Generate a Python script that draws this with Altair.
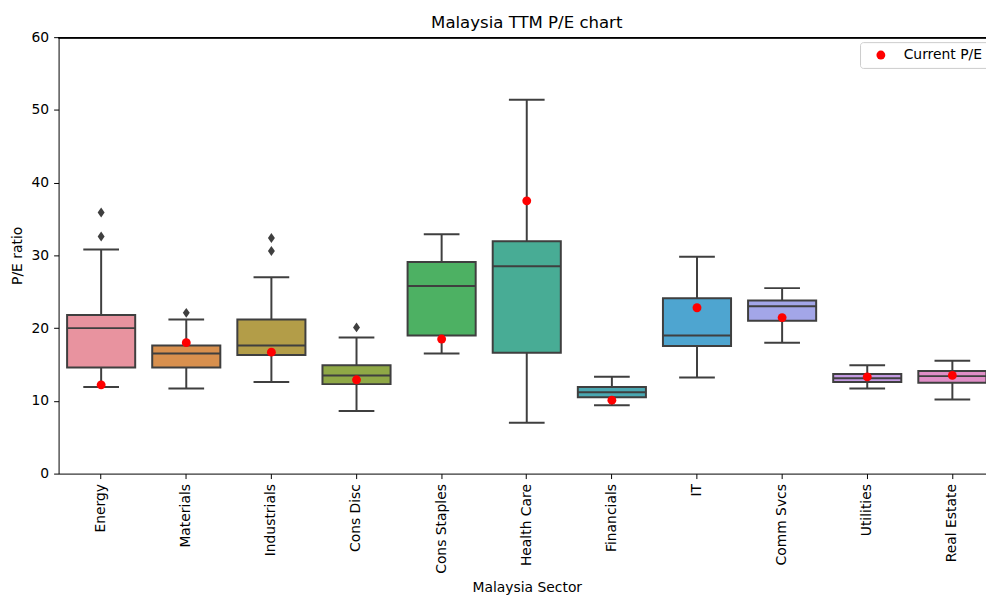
import altair as alt
import pandas as pd

sectors = ["Energy", "Materials", "Industrials", "Cons Disc", "Cons Staples",
           "Health Care", "Financials", "IT", "Comm Svcs", "Utilities", "Real Estate"]
whisk_lo = [11.9, 11.7, 12.6, 8.6, 16.5, 7.0, 9.4, 13.2, 18.0, 11.7, 10.2]
q1 = [14.6, 14.6, 16.3, 12.3, 19.0, 16.6, 10.5, 17.55, 21.0, 12.6, 12.5]
median = [20.0, 16.5, 17.6, 13.5, 25.8, 28.5, 11.2, 19.0, 23.0, 13.1, 13.4]
q3 = [21.8, 17.6, 21.2, 14.9, 29.1, 31.95, 11.9, 24.1, 23.8, 13.7, 14.1]
whisk_hi = [30.8, 21.2, 27.0, 18.7, 32.9, 51.4, 13.3, 29.8, 25.5, 14.9, 15.5]
current_pe = [12.2, 18.0, 16.7, 12.9, 18.5, 37.5, 10.1, 22.8, 21.45, 13.3, 13.5]
outlier_sector = ["Energy", "Energy", "Materials", "Industrials", "Industrials", "Cons Disc"]
outlier_value = [35.9, 32.6, 22.1, 32.4, 30.6, 20.1]
box_colors = ["#e8939f", "#d8904e", "#b39d48", "#8fa846", "#4db163", "#48ac95",
              "#4aa8b2", "#4ea5d0", "#a3a6e8", "#c49be3", "#e08ec7"]

stats = pd.DataFrame({
    "sector": sectors, "lo": whisk_lo, "q1": q1, "med": median,
    "q3": q3, "hi": whisk_hi, "current": current_pe,
    "label": ["Current P/E"] * len(sectors),
})
outliers = pd.DataFrame({"sector": outlier_sector, "value": outlier_value})

FONT = "DejaVu Sans"
LINE = "#3f3f3f"

x = alt.X("sector:N", sort=sectors,
          scale=alt.Scale(domain=sectors, range=[0, 944], paddingInner=0.2, paddingOuter=0.1),
          axis=alt.Axis(title="Malaysia Sector", labelAngle=270, labelAlign="right",
                        labelBaseline="middle", labelPadding=5, tickSize=5,
                        labelFontSize=14, titleFontSize=14, titleFontWeight="normal",
                        labelColor="black", titleColor="black", tickColor="black",
                        domainColor="black", labelFont=FONT, titleFont=FONT,
                        titleY=108, titleBaseline="top", grid=False))
yscale = alt.Scale(domain=[0, 60], nice=False)
yaxis = alt.Axis(title="P/E ratio", values=[0, 10, 20, 30, 40, 50, 60], tickSize=5,
                 labelPadding=5, labelFontSize=14, titleFontSize=14,
                 titleFontWeight="normal", labelColor="black", titleColor="black",
                 tickColor="black", domainColor="black", labelFont=FONT, titleFont=FONT,
                 titleX=-41, titleY=220, titleAngle=270, titleBaseline="middle",
                 grid=False)

base = alt.Chart(stats)

whisker = base.mark_rule(color=LINE, strokeWidth=2).encode(
    x=x, y=alt.Y("lo:Q", scale=yscale, axis=yaxis), y2="hi:Q")
cap_lo = base.mark_tick(color=LINE, thickness=2, size=36, opacity=1).encode(
    x=x, y=alt.Y("lo:Q"))
cap_hi = base.mark_tick(color=LINE, thickness=2, size=36, opacity=1).encode(
    x=x, y=alt.Y("hi:Q"))
box = base.mark_bar(stroke=LINE, strokeWidth=2, opacity=1).encode(
    x=x, y=alt.Y("q1:Q"), y2="q3:Q",
    color=alt.Color("sector:N", scale=alt.Scale(domain=sectors, range=box_colors),
                    legend=None))
med = base.mark_tick(color=LINE, thickness=2, size=69, opacity=1).encode(
    x=x, y=alt.Y("med:Q"))
outl = alt.Chart(outliers).mark_point(
    shape="M0,-1L0.7,0L0,1L-0.7,0Z", filled=True, color=LINE, size=100, opacity=1
).encode(x=x, y=alt.Y("value:Q"))
cur = base.mark_circle(size=80, opacity=1).encode(
    x=x, y=alt.Y("current:Q"),
    color=alt.Color("label:N",
                    scale=alt.Scale(domain=["Current P/E"], range=["#ff0000"]),
                    legend=alt.Legend(title=None, orient="none", legendX=808, legendY=5,
                                      labelFontSize=14, labelFont=FONT, labelColor="black",
                                      symbolSize=80, symbolOffset=8, labelOffset=16,
                                      padding=6, strokeColor="#cccccc", fillColor="white",
                                      cornerRadius=3, symbolType="circle")))
top_spine = alt.Chart(stats).mark_rule(color="black", strokeWidth=1, yOffset=0.5).encode(
    y=alt.datum(60))

chart = alt.layer(whisker, cap_lo, cap_hi, box, med, outl, cur, top_spine).resolve_scale(
    color="independent"
).properties(
    width=935, height=440,
    title=alt.TitleParams("Malaysia TTM P/E chart", fontSize=16.7, font=FONT,
                          fontWeight="normal", color="black", anchor="middle",
                          frame="group", offset=8, dx=4.5, dy=22, baseline="alphabetic"),
    autosize=alt.AutoSizeParams(type="none"),
    padding={"left": 51, "top": 27, "right": 0, "bottom": 122},
).configure_view(stroke=None)

chart.save("out.html", embed_options={"renderer": "svg", "actions": False})
